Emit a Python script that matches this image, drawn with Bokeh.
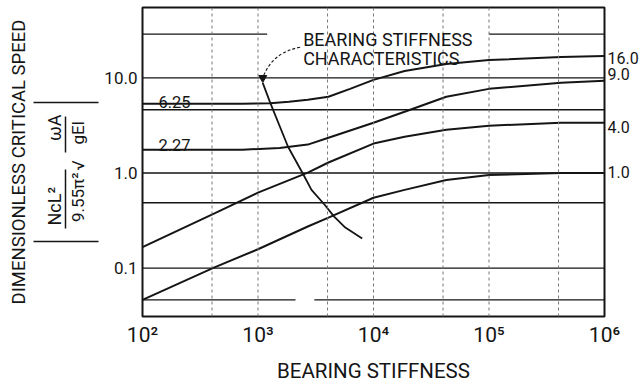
import numpy as np
from bokeh.plotting import figure
from bokeh.models import FixedTicker, Label, Span, Range1d, LogAxis
from bokeh.embed import file_html
from bokeh.resources import INLINE

# ---------------- data ----------------
x_ticks = [1e2, 1e3, 1e4, 1e5, 1e6]
x_tick_labels = ["10²", "10³", "10⁴", "10⁵", "10⁶"]
y_ticks = [0.1, 1.0, 10.0]
y_tick_labels = ["0.1", "1.0", "10.0"]

# curve ending at 16.0 (left plateau 6.25)
c16_x = [100, 731, 1277, 1854, 2698, 4074, 6266, 1e4, 1.86e4, 4.27e4, 1e5, 4.2e5, 1e6]
c16_y = [5.35, 5.35, 5.41, 5.61, 5.89, 6.33, 7.67, 9.53, 11.8, 14.0, 15.4, 16.6, 17.0]
# curve ending at 9.0 (left plateau 2.27)
c9_x = [100, 731, 1538, 2698, 4074, 1e4, 1.86e4, 4.27e4, 1e5, 4.2e5, 1e6]
c9_y = [1.76, 1.76, 1.83, 1.99, 2.35, 3.38, 4.41, 6.33, 7.67, 8.87, 9.31]
# curve ending at 4.0
c4_x = [100, 420, 1000, 2698, 4074, 1e4, 1.86e4, 4.27e4, 1e5, 4.2e5, 1e6]
c4_y = [0.166, 0.377, 0.621, 1.01, 1.29, 2.04, 2.41, 2.85, 3.14, 3.38, 3.38]
# curve ending at 1.0
c1_x = [100, 420, 1000, 2698, 4074, 1e4, 1.86e4, 4.27e4, 1e5, 4.2e5, 1e6]
c1_y = [0.0464, 0.102, 0.158, 0.274, 0.34, 0.55, 0.665, 0.845, 0.953, 1.0, 1.0]
# bearing stiffness characteristic
char_x = [1099, 1277, 1820, 2456, 2905, 3776, 4563, 5700, 7980]
char_y = [8.87, 5.47, 1.89, 0.976, 0.665, 0.464, 0.348, 0.267, 0.205]

# horizontal reference lines
hline_y = [28.9, 28.9, 10.0, 4.62, 1.0, 0.487, 0.1, 0.0464, 0.0464]
hline_x0 = [100, 1e5, 100, 100, 100, 100, 100, 100, 3076]
hline_x1 = [1200, 1e6, 1e6, 1e6, 1e6, 1e6, 1e6, 2113, 1e6]
# vertical dashed reference lines
vline_x = [400, 1e3, 4e3, 1e4, 4e4, 1e5, 4e5]

right_labels = ["16.0", "9.0", "4.0", "1.0"]
left_labels = ["6.25", "2.27"]
formula_num = ["NcL²", "ωA"]
formula_den = ["9.55π²", "√", "gEI"]

# ---------------- layout ----------------
FL, FR, FT, FB = 142, 605, 7, 318
W, H = 641, 385
XMIN, XMAX = 1e2, 1e6
YMIN, YMAX = 0.031, 55.0
FONT = "Roboto"
INK = "#151515"


def px2x(px):
    return 10 ** (np.log10(XMIN) + (px - FL) / (FR - FL) * (np.log10(XMAX) - np.log10(XMIN)))


def py2y(py):
    v = 10 ** (np.log10(YMAX) - (py - FT) / (FB - FT) * (np.log10(YMAX) - np.log10(YMIN)))
    return float(f"{v:.6g}")


p = figure(width=W, height=H, x_axis_type="log", y_axis_type="log",
           x_range=Range1d(XMIN, XMAX), y_range=Range1d(YMIN, YMAX),
           output_backend="svg", toolbar_location=None,
           min_border_left=FL, min_border_right=W - FR,
           min_border_top=FT, min_border_bottom=H - FB)
p.background_fill_color = "white"
p.border_fill_color = "white"
p.outline_line_color = INK
p.outline_line_width = 2
p.grid.grid_line_color = None


def style(ax, size):
    ax.axis_line_color = None
    ax.major_tick_line_color = None
    ax.minor_tick_line_color = None
    ax.major_tick_out = 0
    ax.major_tick_in = 0
    ax.minor_tick_out = 0
    ax.minor_tick_in = 0
    ax.major_label_text_font = FONT
    ax.major_label_text_font_size = f"{size}px"
    ax.major_label_text_color = INK
    ax.axis_label_text_font = FONT
    ax.axis_label_text_font_style = "normal"
    ax.axis_label_text_color = INK


xa = p.xaxis[0]
style(xa, 21)
xa.ticker = FixedTicker(ticks=x_ticks, minor_ticks=[])
xa.major_label_overrides = dict(zip(x_ticks, x_tick_labels))
xa.major_label_standoff = 6
xa.axis_label = "BEARING STIFFNESS"
xa.axis_label_text_font_size = "20.5px"
xa.axis_label_standoff = 9

ya = p.yaxis[0]
style(ya, 17)
ya.ticker = FixedTicker(ticks=y_ticks, minor_ticks=[])
ya.major_label_overrides = dict(zip(y_ticks, y_tick_labels))
ya.major_label_standoff = 5


def extra_axis(ticks, labels, size, side="left", standoff=2):
    ax = LogAxis(ticker=FixedTicker(ticks=ticks, minor_ticks=[]))
    style(ax, size)
    ax.major_label_overrides = dict(zip(ticks, labels))
    ax.major_label_standoff = standoff
    p.add_layout(ax, side)
    return ax


# formula  [ NcL² / 9.55π² · √(ωA / gEI) ]  written sideways, built from axes
den = extra_axis([py2y(198), py2y(166), py2y(133)], formula_den, 17, standoff=13)
den.major_label_orientation = "vertical"

bar1 = extra_axis([], [], 10, standoff=0)
bar1.axis_line_color = INK
bar1.axis_line_width = 1.5
bar1.bounds = (py2y(229), py2y(170))
bar2 = extra_axis([], [], 10, standoff=0)
bar2.axis_line_color = INK
bar2.axis_line_width = 1.5
bar2.bounds = (py2y(153), py2y(117))

num = extra_axis([py2y(207), py2y(128)], formula_num, 18, standoff=0)
num.major_label_orientation = "vertical"

# invisible spacer
spc = extra_axis([py2y(300)], [""], 10, standoff=0)
spc.major_tick_out = 8

brk = extra_axis([py2y(243), py2y(103)], ["", ""], 10, standoff=0)
brk.major_tick_line_color = INK
brk.major_tick_line_width = 1.5
brk.major_tick_in = 65
brk.axis_label = "DIMENSIONLESS CRITICAL SPEED"
brk.axis_label_text_font_size = "18.5px"
brk.axis_label_standoff = 4

# values of the asymptotes on the right
rt = extra_axis([py2y(58), py2y(74), py2y(127), py2y(173)], right_labels, 16,
                side="right", standoff=3)

# reference lines
for v in vline_x:
    p.add_layout(Span(location=v, dimension="height", line_color="#777777",
                      line_width=1, line_dash="3 3"))
p.segment(x0=hline_x0, x1=hline_x1, y0=hline_y, y1=hline_y,
          line_color=INK, line_width=1.4)

# curves
for xs, ys in ((c16_x, c16_y), (c9_x, c9_y), (c4_x, c4_y), (c1_x, c1_y)):
    p.line(xs, ys, line_color=INK, line_width=2)
p.line(char_x, char_y, line_color=INK, line_width=1.8)

# leader arrow to the characteristic curve
ax_end, ay_end = char_x[0], char_y[0] * 1.13
p.quadratic(x0=[px2x(300)], y0=[py2y(47)], x1=[ax_end], y1=[ay_end],
            cx=[px2x(272)], cy=[py2y(52)], line_color=INK, line_width=1.1,
            line_dash="3 2")
p.scatter([ax_end], [ay_end], marker="inverted_triangle", size=8, color=INK)


def lab(text, px, py, size):
    p.add_layout(Label(x=px2x(px), y=py2y(py), text=text, text_font=FONT,
                       text_font_size=f"{size}px", text_color=INK,
                       text_align="left", text_baseline="alphabetic"))


lab("BEARING STIFFNESS", 303, 39, 18)
lab("CHARACTERISTICS", 303, 58, 18)
lab(left_labels[0], 158, 102, 16.5)
lab(left_labels[1], 158, 145, 16.5)

open("out.html", "w").write(file_html(p, INLINE))
